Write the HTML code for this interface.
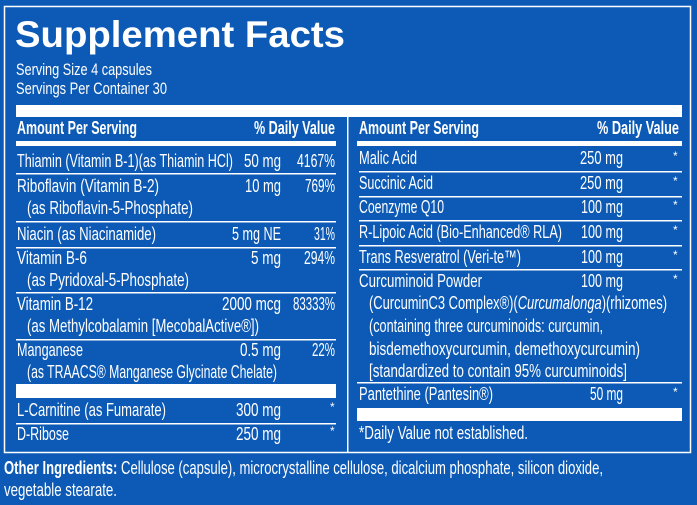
<!DOCTYPE html>
<html><head><meta charset="utf-8"><style>
html,body{margin:0;padding:0;background:#0c5ab6;}
svg{display:block}
text{font-family:"Liberation Sans",sans-serif;fill:#fff;font-size:18px}
.b{font-weight:bold}
</style></head><body>
<svg width="697" height="505" viewBox="0 0 697 505" xmlns="http://www.w3.org/2000/svg">
<rect width="697" height="505" fill="#0c5ab6"/>
<rect x="4.5" y="6.5" width="686" height="446" fill="none" stroke="#fff" stroke-width="1.5"/>
<text class="b" x="15" y="47" textLength="330" lengthAdjust="spacingAndGlyphs" style="font-size:37px">Supplement Facts</text>
<text x="16" y="75" textLength="136" lengthAdjust="spacingAndGlyphs" style="font-size:17px">Serving Size 4 capsules</text>
<text x="16" y="94" textLength="151" lengthAdjust="spacingAndGlyphs" style="font-size:17px">Servings Per Container 30</text>
<rect x="16" y="105" width="666" height="12" fill="#fff"/>
<rect x="347" y="117" width="1.5" height="335" fill="#fff"/>
<g>
<text class="b" x="17" y="134" textLength="120" lengthAdjust="spacingAndGlyphs">Amount Per Serving</text>
<text class="b" x="254" y="134" textLength="81" lengthAdjust="spacingAndGlyphs">% Daily Value</text>
<rect x="16" y="141" width="320" height="5" fill="#fff"/>
<text x="17" y="167" textLength="216" lengthAdjust="spacingAndGlyphs">Thiamin (Vitamin B-1)(as Thiamin HCl)</text>
<text x="244" y="167" textLength="37" lengthAdjust="spacingAndGlyphs">50 mg</text>
<text x="297" y="167" textLength="38" lengthAdjust="spacingAndGlyphs">4167%</text>
<rect x="16" y="173" width="320" height="1.5" fill="#fff"/>
<text x="17" y="192" textLength="142" lengthAdjust="spacingAndGlyphs">Riboflavin (Vitamin B-2)</text>
<text x="245" y="192" textLength="36" lengthAdjust="spacingAndGlyphs">10 mg</text>
<text x="305" y="192" textLength="30" lengthAdjust="spacingAndGlyphs">769%</text>
<text x="27" y="214" textLength="166" lengthAdjust="spacingAndGlyphs">(as Riboflavin-5-Phosphate)</text>
<rect x="16" y="221" width="320" height="1.5" fill="#fff"/>
<text x="17" y="240" textLength="139" lengthAdjust="spacingAndGlyphs">Niacin (as Niacinamide)</text>
<text x="232" y="240" textLength="49" lengthAdjust="spacingAndGlyphs">5 mg NE</text>
<text x="314" y="240" textLength="21" lengthAdjust="spacingAndGlyphs">31%</text>
<rect x="16" y="247" width="320" height="1.5" fill="#fff"/>
<text x="17" y="264" textLength="70" lengthAdjust="spacingAndGlyphs">Vitamin B-6</text>
<text x="251" y="264" textLength="30" lengthAdjust="spacingAndGlyphs">5 mg</text>
<text x="304" y="264" textLength="31" lengthAdjust="spacingAndGlyphs">294%</text>
<text x="27" y="286" textLength="162" lengthAdjust="spacingAndGlyphs">(as Pyridoxal-5-Phosphate)</text>
<rect x="16" y="292" width="320" height="1.5" fill="#fff"/>
<text x="17" y="310" textLength="76" lengthAdjust="spacingAndGlyphs">Vitamin B-12</text>
<text x="222" y="310" textLength="59" lengthAdjust="spacingAndGlyphs">2000 mcg</text>
<text x="293" y="310" textLength="42" lengthAdjust="spacingAndGlyphs">83333%</text>
<text x="27" y="332" textLength="232" lengthAdjust="spacingAndGlyphs">(as Methylcobalamin [MecobalActive®])</text>
<rect x="16" y="339" width="320" height="1.5" fill="#fff"/>
<text x="17" y="356" textLength="66" lengthAdjust="spacingAndGlyphs">Manganese</text>
<text x="240" y="356" textLength="41" lengthAdjust="spacingAndGlyphs">0.5 mg</text>
<text x="312" y="356" textLength="23" lengthAdjust="spacingAndGlyphs">22%</text>
<text x="27" y="378" textLength="250" lengthAdjust="spacingAndGlyphs">(as TRAACS® Manganese Glycinate Chelate)</text>
<rect x="16" y="384" width="320" height="14" fill="#fff"/>
<text x="17" y="416" textLength="149" lengthAdjust="spacingAndGlyphs">L-Carnitine (as Fumarate)</text>
<text x="236" y="416" textLength="45" lengthAdjust="spacingAndGlyphs">300 mg</text>
<text x="330" y="411" style="font-size:12px">*</text>
<rect x="16" y="423" width="320" height="1.5" fill="#fff"/>
<text x="17" y="440" textLength="52" lengthAdjust="spacingAndGlyphs">D-Ribose</text>
<text x="236" y="440" textLength="45" lengthAdjust="spacingAndGlyphs">250 mg</text>
<text x="330" y="435" style="font-size:12px">*</text>
</g>
<g>
<text class="b" x="359" y="134" textLength="120" lengthAdjust="spacingAndGlyphs">Amount Per Serving</text>
<text class="b" x="597" y="134" textLength="82" lengthAdjust="spacingAndGlyphs">% Daily Value</text>
<rect x="357" y="141" width="325" height="5" fill="#fff"/>
<text x="359" y="164" textLength="58" lengthAdjust="spacingAndGlyphs">Malic Acid</text>
<text x="580" y="164" textLength="43" lengthAdjust="spacingAndGlyphs">250 mg</text>
<text x="673" y="160" style="font-size:12px">*</text>
<rect x="359" y="171" width="323" height="1.5" fill="#fff"/>
<text x="359" y="189" textLength="74" lengthAdjust="spacingAndGlyphs">Succinic Acid</text>
<text x="580" y="189" textLength="43" lengthAdjust="spacingAndGlyphs">250 mg</text>
<text x="673" y="185" style="font-size:12px">*</text>
<rect x="359" y="196" width="323" height="1.5" fill="#fff"/>
<text x="359" y="213" textLength="85" lengthAdjust="spacingAndGlyphs">Coenzyme Q10</text>
<text x="581" y="213" textLength="42" lengthAdjust="spacingAndGlyphs">100 mg</text>
<text x="673" y="209" style="font-size:12px">*</text>
<rect x="359" y="220" width="323" height="1.5" fill="#fff"/>
<text x="359" y="238" textLength="203" lengthAdjust="spacingAndGlyphs">R-Lipoic Acid (Bio-Enhanced® RLA)</text>
<text x="581" y="238" textLength="42" lengthAdjust="spacingAndGlyphs">100 mg</text>
<text x="673" y="234" style="font-size:12px">*</text>
<rect x="359" y="245" width="323" height="1.5" fill="#fff"/>
<text x="359" y="263" textLength="162" lengthAdjust="spacingAndGlyphs">Trans Resveratrol (Veri-te™)</text>
<text x="581" y="263" textLength="42" lengthAdjust="spacingAndGlyphs">100 mg</text>
<text x="673" y="259" style="font-size:12px">*</text>
<rect x="359" y="269" width="323" height="1.5" fill="#fff"/>
<text x="359" y="287" textLength="123" lengthAdjust="spacingAndGlyphs">Curcuminoid Powder</text>
<text x="581" y="287" textLength="42" lengthAdjust="spacingAndGlyphs">100 mg</text>
<text x="673" y="283" style="font-size:12px">*</text>
<text x="369" y="309" textLength="298" lengthAdjust="spacingAndGlyphs">(CurcuminC3 Complex®)(<tspan font-style="italic">Curcumalonga</tspan>)(rhizomes)</text>
<text x="369" y="332" textLength="234" lengthAdjust="spacingAndGlyphs">(containing three curcuminoids: curcumin,</text>
<text x="369" y="355" textLength="271" lengthAdjust="spacingAndGlyphs">bisdemethoxycurcumin, demethoxycurcumin)</text>
<text x="369" y="377" textLength="258" lengthAdjust="spacingAndGlyphs">[standardized to contain 95% curcuminoids]</text>
<rect x="357" y="382" width="325" height="1.5" fill="#fff"/>
<text x="359" y="400" textLength="134" lengthAdjust="spacingAndGlyphs">Pantethine (Pantesin®)</text>
<text x="590" y="400" textLength="33" lengthAdjust="spacingAndGlyphs">50 mg</text>
<text x="673" y="396" style="font-size:12px">*</text>
<rect x="357" y="408" width="325" height="13" fill="#fff"/>
<text x="359" y="439" textLength="169" lengthAdjust="spacingAndGlyphs">*Daily Value not established.</text>
</g>
<text x="4" y="474" textLength="599" lengthAdjust="spacingAndGlyphs"><tspan class="b">Other Ingredients:</tspan> Cellulose (capsule), microcrystalline cellulose, dicalcium phosphate, silicon dioxide,</text>
<text x="4" y="496" textLength="113" lengthAdjust="spacingAndGlyphs">vegetable stearate.</text>
</svg>
</body></html>
